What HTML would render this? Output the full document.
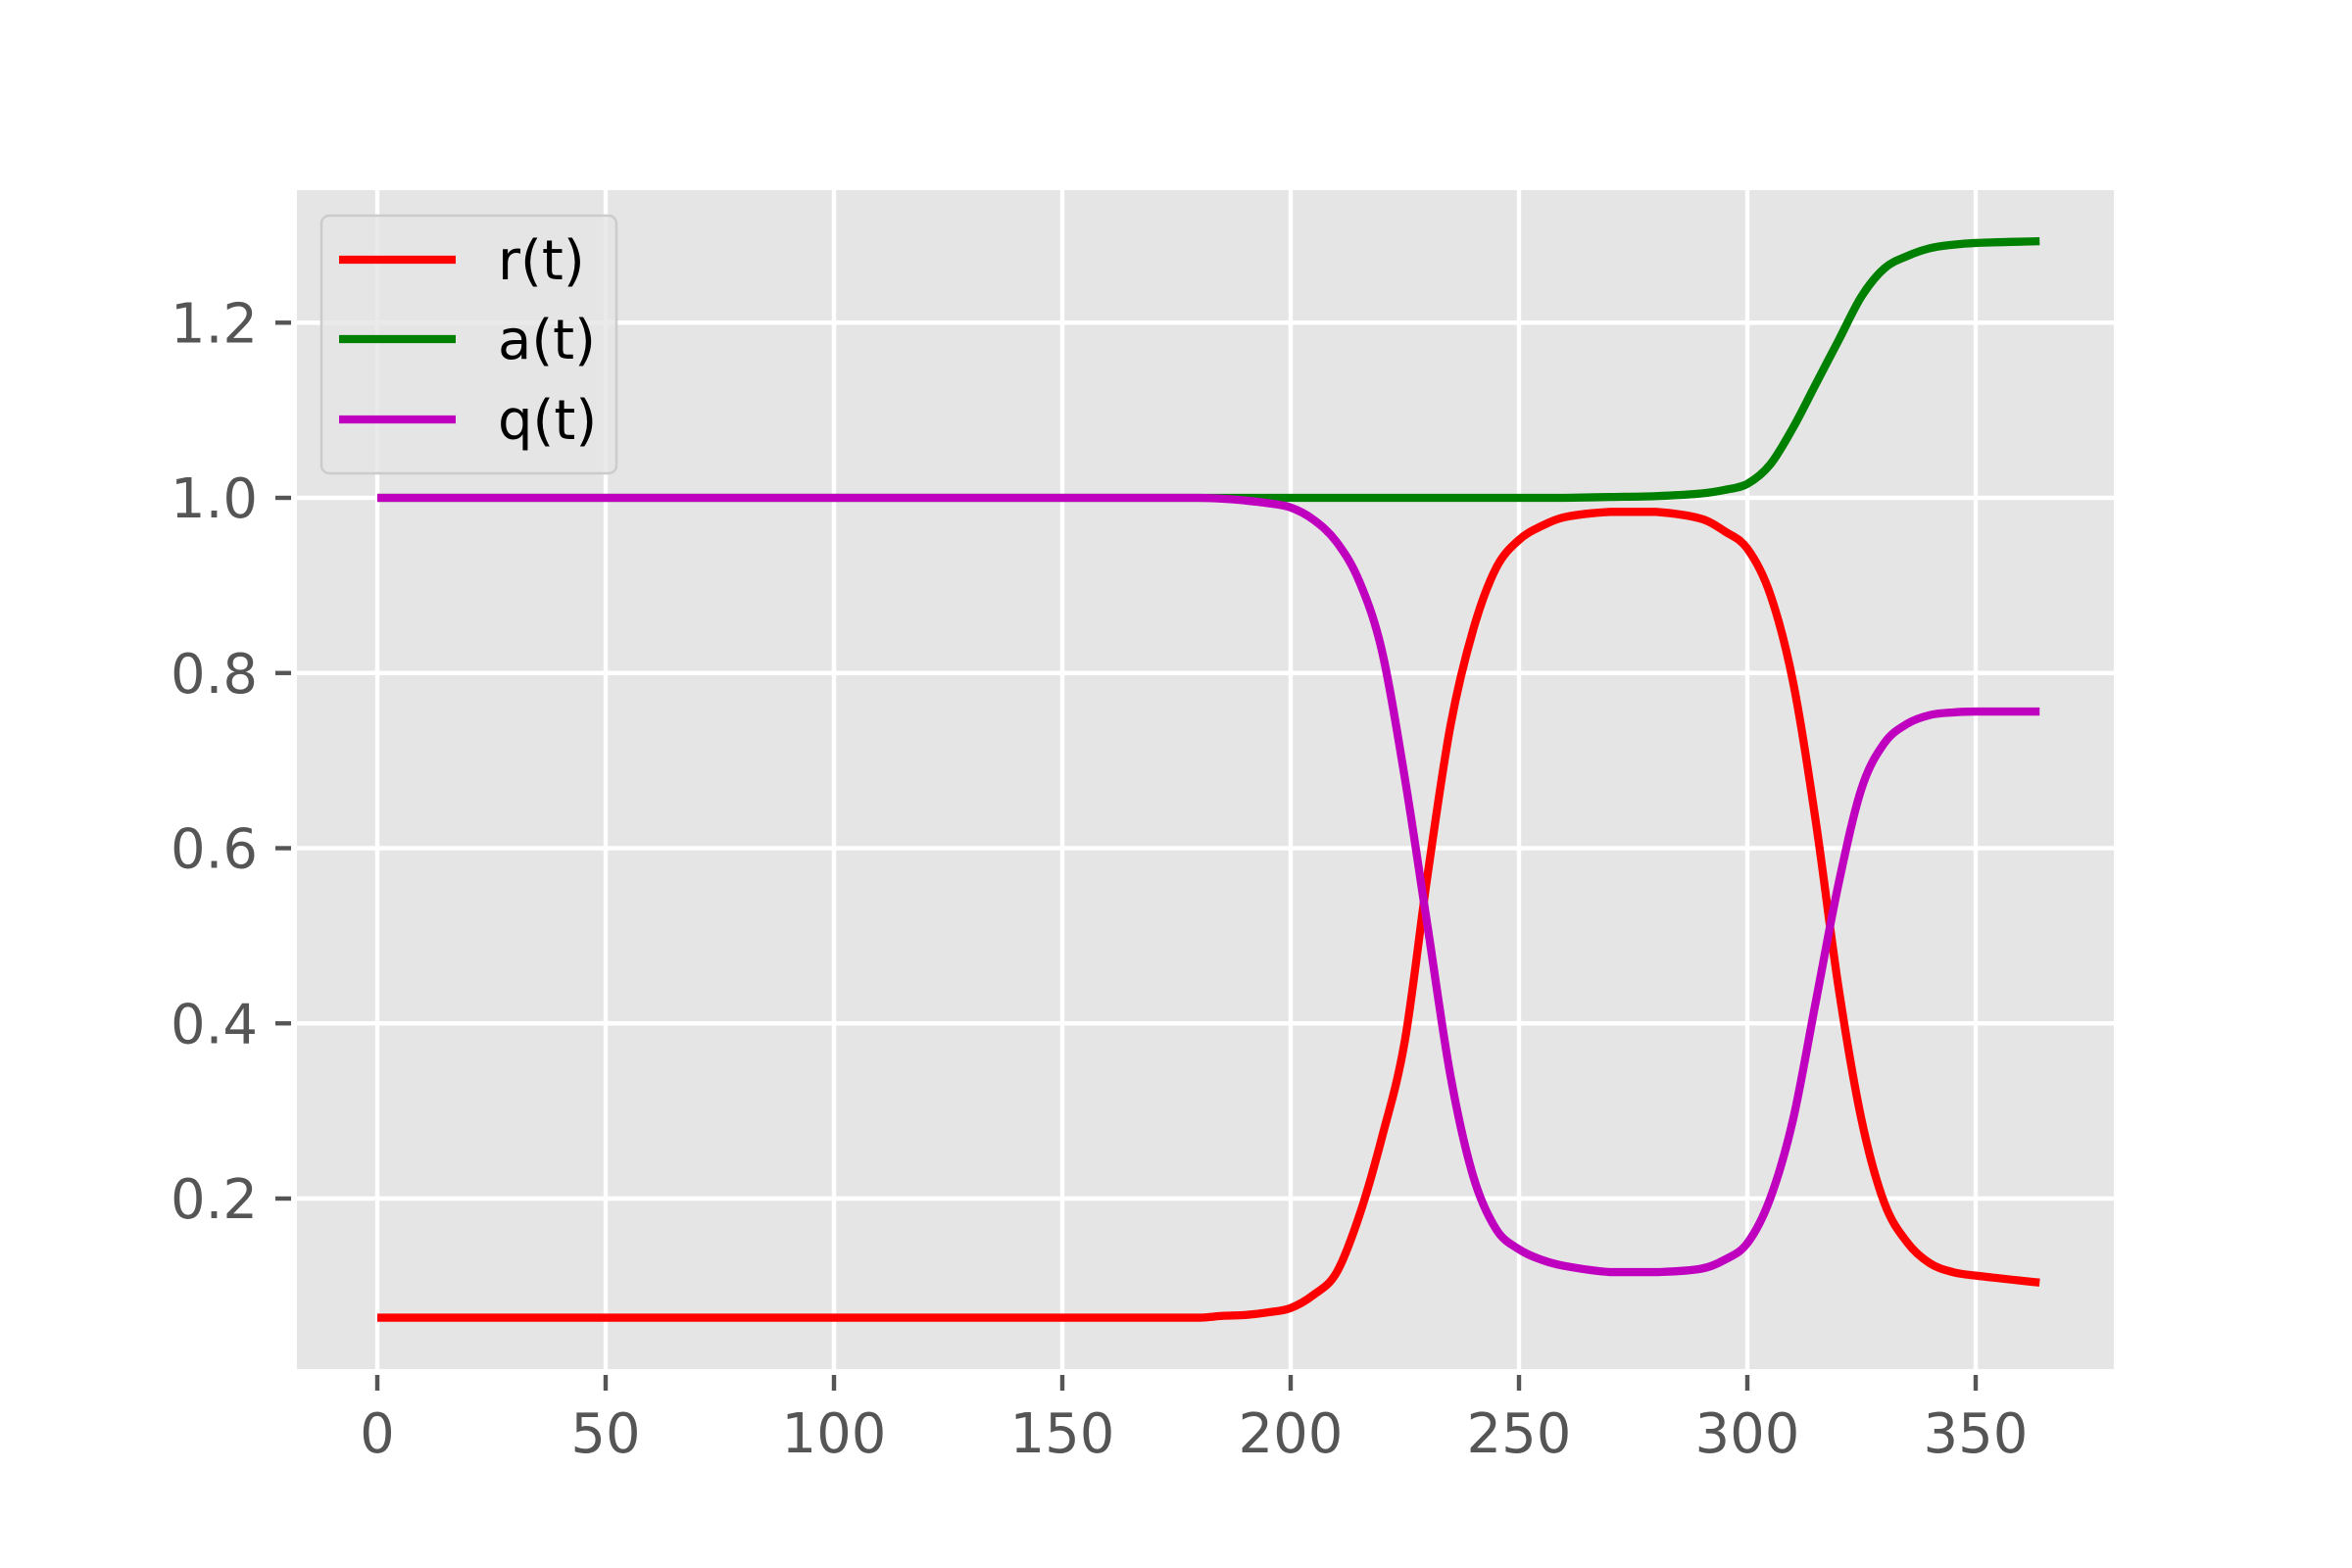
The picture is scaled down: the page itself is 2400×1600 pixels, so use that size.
<!DOCTYPE html>
<html><head><meta charset="utf-8"><style>html,body{margin:0;padding:0;background:#fff}svg{display:block}</style></head>
<body>
<svg id="chart" width="2400" height="1600" xmlns="http://www.w3.org/2000/svg" font-family="'DejaVu Sans','Liberation Sans',sans-serif">
<rect x="0" y="0" width="2400" height="1600" fill="#fff"/>
<rect x="303" y="194" width="1854" height="1203" fill="#e5e5e5"/>
<g id="grid"></g><g id="axes"></g><g id="series"></g>
<g>
<rect x="328" y="220" width="301" height="263" rx="8" fill="#e5e5e5" fill-opacity="0.8" stroke="#cccccc" stroke-width="2.5"/>
<g><line x1="346" y1="265" x2="465" y2="265" stroke="#ff0000" stroke-width="8.3"/><text x="508" y="285" font-size="56" fill="#000">r(t)</text></g>
<g><line x1="346" y1="346" x2="465" y2="346" stroke="#008000" stroke-width="8.3"/><text x="508" y="366" font-size="56" fill="#000">a(t)</text></g>
<g><line x1="346" y1="428" x2="465" y2="428" stroke="#bf00bf" stroke-width="8.3"/><text x="508" y="448" font-size="56" fill="#000">q(t)</text></g>
</g>
</svg>
<script>
const tDays   = [0,150,180,185,190,195,200,205,210,215,220,225,230,235,240,245,250,255,260,270,280,290,295,300,305,310,315,320,325,330,335,340,345,350,364];
const rValues = [0.064,0.064,0.064,0.066,0.067,0.07,0.075,0.09,0.115,0.18,0.27,0.38,0.57,0.74,0.85,0.92,0.952,0.968,0.978,0.984,0.984,0.976,0.962,0.942,0.89,0.79,0.63,0.44,0.29,0.195,0.15,0.126,0.116,0.112,0.104];
const aValues = [1,1,1,1,1,1,1,1,1,1,1,1,1,1,1,1,1,1,1,1.001,1.002,1.005,1.009,1.016,1.038,1.08,1.13,1.18,1.23,1.262,1.276,1.285,1.289,1.291,1.293];
const qValues = [1,1,1,0.999,0.997,0.994,0.989,0.975,0.95,0.905,0.825,0.68,0.51,0.34,0.225,0.165,0.142,0.13,0.123,0.116,0.116,0.12,0.13,0.149,0.2,0.29,0.425,0.56,0.668,0.72,0.742,0.752,0.755,0.756,0.756];
const xTicks = [0,50,100,150,200,250,300,350];
const yTicks = [0.2,0.4,0.6,0.8,1.0,1.2];
const yTickLabels = ["0.2","0.4","0.6","0.8","1.0","1.2"];

const NS="http://www.w3.org/2000/svg";
const L=303,R=2157,T=194,B=1397;
const X=v=>385+v*4.66;
const Y=v=>508-(v-1)*893.75;
function mk(tag,attrs,parent){const e=document.createElementNS(NS,tag);for(const k in attrs)e.setAttribute(k,attrs[k]);parent.appendChild(e);return e;}
const grid=document.getElementById('grid'),axes=document.getElementById('axes'),series=document.getElementById('series');
xTicks.forEach(v=>{
  const g=mk('line',{x1:X(v),x2:X(v),y1:T,y2:B,stroke:'#fff','stroke-width':4.4},grid);
  
  
  const tk=mk('line',{x1:X(v),x2:X(v),y1:B+6,y2:B+22,stroke:'#555','stroke-width':4.4},axes);
  
  
  const t=mk('text',{x:X(v),y:1482,'font-size':56,fill:'#555','text-anchor':'middle'},axes);
  t.textContent=String(v);
  
  
});
yTicks.forEach((v,i)=>{
  const g=mk('line',{x1:L,x2:R,y1:Y(v),y2:Y(v),stroke:'#fff','stroke-width':4.4},grid);
  
  
  const tk=mk('line',{x1:L-22,x2:L-6,y1:Y(v),y2:Y(v),stroke:'#555','stroke-width':4.4},axes);
  
  
  const t=mk('text',{x:L-40,y:Y(v)+20,'font-size':56,fill:'#555','text-anchor':'end'},axes);
  t.textContent=yTickLabels[i];
  
  
});
function pathFor(vals){
  const p=tDays.map((t,i)=>[X(t),Y(vals[i])]);
  let d='M'+p[0][0]+','+p[0][1];
  for(let i=0;i<p.length-1;i++){
    const p0=p[Math.max(0,i-1)],p1=p[i],p2=p[i+1],p3=p[Math.min(p.length-1,i+2)];
    const dx=p2[0]-p1[0];
    const s1=(p2[1]-p0[1])/(p2[0]-p0[0]||1), s2=(p3[1]-p1[1])/(p3[0]-p1[0]||1);
    let c1y=p1[1]+s1*dx/3,c2y=p2[1]-s2*dx/3;
    const lo=Math.min(p1[1],p2[1]),hi=Math.max(p1[1],p2[1]);
    c1y=Math.min(hi,Math.max(lo,c1y));c2y=Math.min(hi,Math.max(lo,c2y));
    d+=' C'+(p1[0]+dx/3)+','+c1y+' '+(p2[0]-dx/3)+','+c2y+' '+p2[0]+','+p2[1];
  }
  return d;
}
[['r-line',rValues,'#ff0000'],['a-line',aValues,'#008000'],['q-line',qValues,'#bf00bf']].forEach(s=>{
  const e=mk('path',{d:pathFor(s[1]),fill:'none',stroke:s[2],'stroke-width':8.3,'stroke-linejoin':'round'},series);
  
  
});
</script>
</body></html>
